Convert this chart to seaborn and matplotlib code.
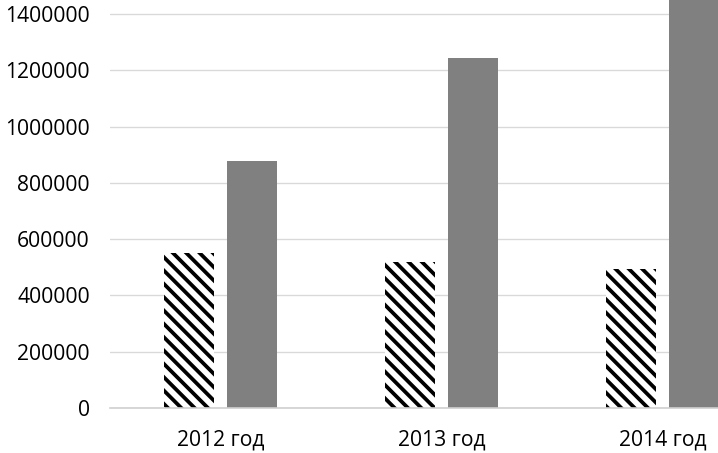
import matplotlib
matplotlib.use("Agg")
import matplotlib.pyplot as plt
import seaborn as sns
import pandas as pd

years = ["2012 год", "2013 год", "2014 год"]
series_a = [552000, 520000, 495000]      # hatched
series_b = [878000, 1245000, 1460000]    # grey
series_names = ["A", "B"]
yticks = [0, 200000, 400000, 600000, 800000, 1000000, 1200000, 1400000]

df = pd.DataFrame({
    "year": years * 2,
    "value": series_a + series_b,
    "series": [series_names[0]] * 3 + [series_names[1]] * 3,
})

sns.set_style("white")
plt.rcParams["font.family"] = ["Open Sans", "DejaVu Sans"]
plt.rcParams["hatch.linewidth"] = 3.4
plt.rcParams["hatch.color"] = "black"

DPI = 80
fig = plt.figure(figsize=(718 / DPI, 453 / DPI), dpi=DPI)
ax = fig.add_axes([110 / 718, 45 / 453, 663 / 718, 408 / 453])

sns.barplot(data=df, x="year", y="value", hue="series",
            palette={"A": "white", "B": "#808080"},
            width=0.575, gap=0.21, legend=False, ax=ax, errorbar=None)

n = len(years)
for i, p in enumerate(ax.patches[:n]):
    p.set_hatch("\\\\")
    p.set_edgecolor("black")
    p.set_linewidth(0)
for p in ax.patches[n:]:
    p.set_edgecolor("none")
    p.set_linewidth(0)

ax.set_xlim(-0.5, 2.5)
ax.set_ylim(0, 1450000)
ax.set_yticks(yticks)
ax.set_yticklabels([str(v) for v in yticks])
ax.yaxis.grid(True, color="#d9d9d9", linewidth=1.2)
ax.set_axisbelow(True)
for s in ["left", "right", "top"]:
    ax.spines[s].set_visible(False)
ax.spines["bottom"].set_color("#d0d0d0")
ax.spines["bottom"].set_linewidth(1.5)
ax.set_xlabel("")
ax.set_ylabel("")
ax.tick_params(axis="y", length=0, pad=18, labelsize=19, colors="black")
ax.tick_params(axis="x", length=0, pad=19, labelsize=19, colors="black")

fig.savefig("out.png", dpi=DPI)
